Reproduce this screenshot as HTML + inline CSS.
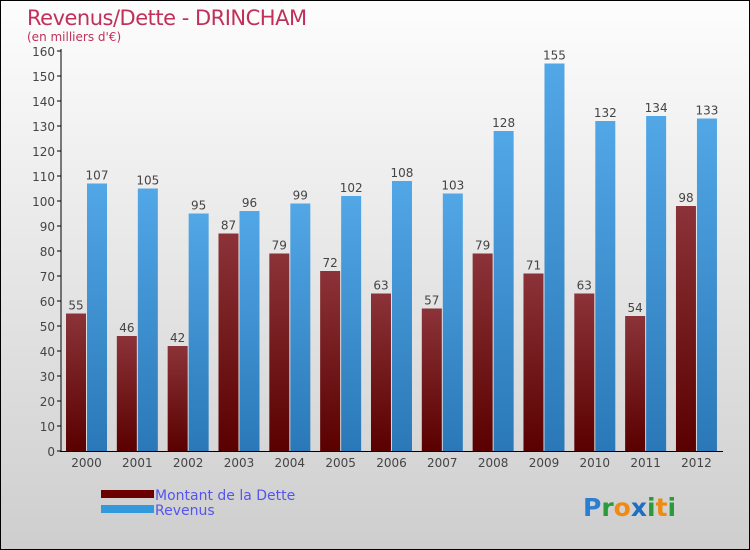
<!DOCTYPE html>
<html><head><meta charset="utf-8"><style>
body{margin:0}
#c{width:750px;height:550px;position:relative;box-sizing:border-box;border:1px solid #000;background:linear-gradient(#fdfdfd,#cecece);font-family:"DejaVu Sans","Liberation Sans",sans-serif;overflow:hidden}
</style></head><body>
<div id="c">
<svg width="750" height="550" style="position:absolute;left:0;top:0" id="s">
<defs>
<linearGradient id="gd" x1="0" y1="0" x2="0" y2="1"><stop offset="0" stop-color="#8b3338"/><stop offset="1" stop-color="#5a0000"/></linearGradient>
<linearGradient id="gr" x1="0" y1="0" x2="0" y2="1"><stop offset="0" stop-color="#52a7e6"/><stop offset="1" stop-color="#2a78b8"/></linearGradient>
</defs>
<text x="26" y="24" font-size="21" fill="#c0305a" style="letter-spacing:-0.5px">Revenus/Dette - DRINCHAM</text>
<text x="26" y="40" font-size="12" fill="#c0305a">(en milliers d'€)</text>
<g id="bars"></g>
<line x1="60" y1="48" x2="60" y2="451" stroke="#000"/>
<line x1="59" y1="450.5" x2="722" y2="450.5" stroke="#000"/>
<g id="ax"></g>
<rect x="100" y="489" width="53" height="8" fill="#6a0000"/>
<text x="154" y="499" font-size="14" fill="#5555ee">Montant de la Dette</text>
<rect x="100" y="504" width="53" height="8" fill="#3399dd"/>
<text x="154" y="514" font-size="14" fill="#5555ee">Revenus</text>
<text x="582" y="515" font-size="25" font-weight="bold"><tspan fill="#2a7fd0">P</tspan><tspan fill="#2a9a3a">r</tspan><tspan fill="#f08a10">o</tspan><tspan fill="#1f6fc0">x</tspan><tspan fill="#2a9a3a">i</tspan><tspan fill="#f08a10">t</tspan><tspan fill="#2a9a3a">i</tspan></text>
</svg>
</div>
<script>
const years=["2000","2001","2002","2003","2004","2005","2006","2007","2008","2009","2010","2011","2012"];
const dette=[55,46,42,87,79,72,63,57,79,71,63,54,98];
const revenus=[107,105,95,96,99,102,108,103,128,155,132,134,133];
const yTicks=[0,10,20,30,40,50,60,70,80,90,100,110,120,130,140,150,160];
const NS="http://www.w3.org/2000/svg";
const y0=450,yMax=160,ph=400,x0=60,step=50.83;
const ys=v=>y0-v/yMax*ph;
const bars=document.getElementById('bars'),ax=document.getElementById('ax');
function mk(t,a,p){const e=document.createElementNS(NS,t);for(const k in a)e.setAttribute(k,a[k]);p.appendChild(e);return e;}
yTicks.forEach(v=>{
 const l=mk('line',{x1:56,x2:60,y1:ys(v),y2:ys(v),stroke:'#000'},ax);
 
 
 const t=mk('text',{x:54,y:ys(v)+5,'font-size':12,'text-anchor':'end',fill:'#444'},ax);
 t.textContent=v;
 
 
});
years.forEach((yr,i)=>{
 const gx=x0+i*step;
 const d=mk('rect',{x:gx+5,y:ys(dette[i]),width:20,height:y0-ys(dette[i]),fill:'url(#gd)'},bars);
 
 
 const r=mk('rect',{x:gx+26,y:ys(revenus[i]),width:20,height:y0-ys(revenus[i]),fill:'url(#gr)'},bars);
 
 
 const dl=mk('text',{x:gx+15,y:ys(dette[i])-4,'font-size':12,'text-anchor':'middle',fill:'#444'},bars);
 dl.textContent=dette[i];
 
 
 const rl=mk('text',{x:gx+36,y:ys(revenus[i])-4,'font-size':12,'text-anchor':'middle',fill:'#444'},bars);
 rl.textContent=revenus[i];
 
 
 const xl=mk('text',{x:gx+25.5,y:466,'font-size':12,'text-anchor':'middle',fill:'#444'},ax);
 xl.textContent=yr;
 
 
});
</script>
</body></html>
